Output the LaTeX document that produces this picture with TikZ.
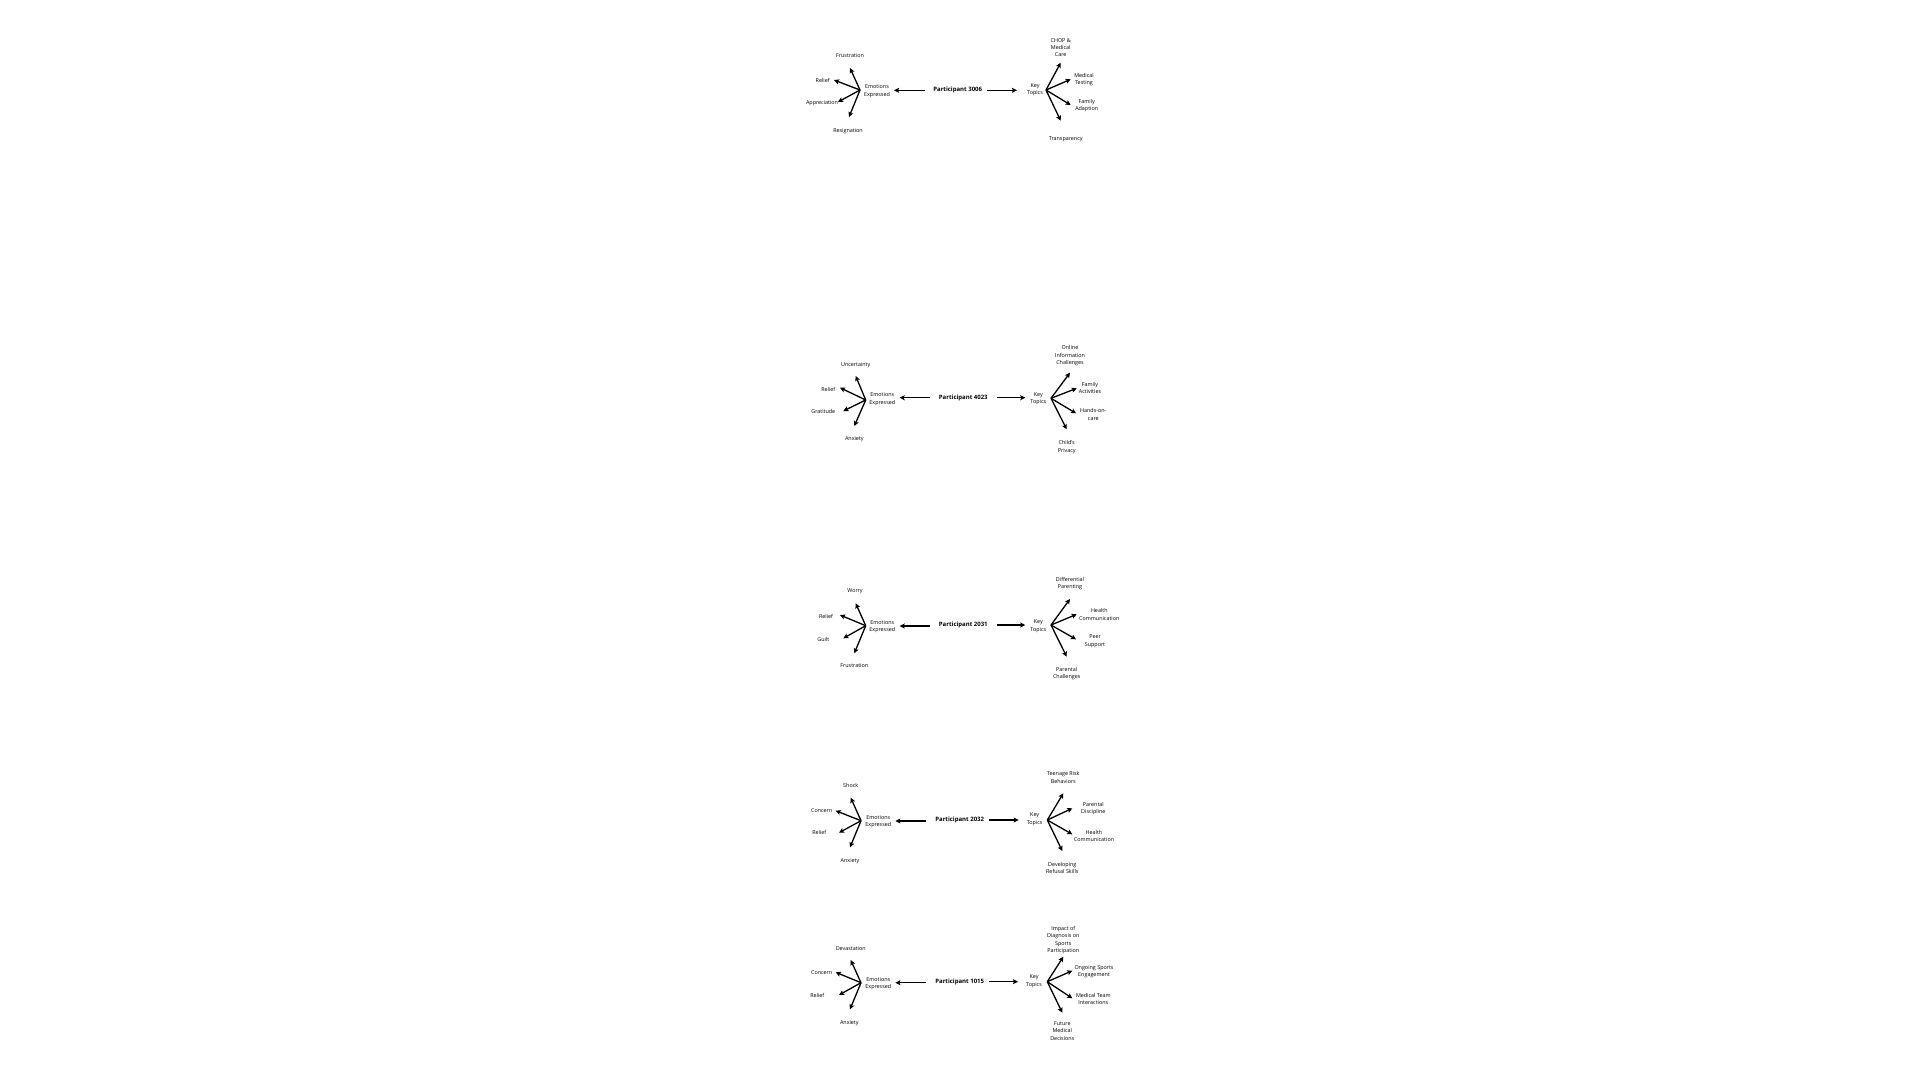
\documentclass[tikz,border=0pt]{standalone}
\usepackage{fontspec}
\setmainfont{Open Sans}
\usetikzlibrary{arrows.meta}
\begin{document}
\begin{tikzpicture}[x=1pt,y=-1pt,
  lbl/.style={font=\fontsize{5.4}{7.3}\selectfont,align=center,inner sep=0pt},
  pname/.style={font=\fontsize{6}{7}\selectfont\bfseries,inner sep=0pt},
  arr/.style={-{Stealth[length=5pt,width=5pt,inset=1pt]},line width=1.3pt}]
\useasboundingbox[fill=white] (0,0) rectangle (1920,1080);

% Participant 3006
\node[pname] (p3006) at (957.7,90.3) {Participant 3006};
\node[lbl] (e3006) at (877,91.2) {Emotions\\Expressed};
\node[lbl] (k3006) at (1035,89.5) {Key\\Topics};
\coordinate (eh3006) at (860,90); \coordinate (kh3006) at (1046,90);
\draw[arr,shorten <=8pt,shorten >=4pt] (p3006.west) -- (p3006.west -| e3006.east);
\draw[arr,shorten <=5pt,shorten >=10pt] (p3006.east) -- (p3006.east -| k3006.west);
\node[lbl] (frus3006) at (850,56) {Frustration};
\node[lbl] (reli3006) at (822.7,80) {Relief};
\node[lbl] (appr3006) at (822,103) {Appreciation};
\node[lbl] (resi3006) at (848,131) {Resignation};
\coordinate (tfrus3006) at (850,68); \coordinate (treli3006) at (834,80);
\coordinate (tappr3006) at (838,102); \coordinate (tresi3006) at (849,117);
\draw[arr] (eh3006) -- (tfrus3006); \draw[arr] (eh3006) -- (treli3006);
\draw[arr] (eh3006) -- (tappr3006); \draw[arr] (eh3006) -- (tresi3006);
\node[lbl] (chop3006) at (1060.7,47.5) {CHOP \&\\Medical\\Care};
\node[lbl] (test3006) at (1084,79.5) {Medical\\Testing};
\node[lbl] (fami3006) at (1086.7,105.8) {Family\\Adaption};
\node[lbl] (tran3006) at (1065.7,139) {Transparency};
\coordinate (tchop3006) at (1060.7,62.7); \coordinate (ttest3006) at (1070.7,79.3);
\coordinate (tfami3006) at (1070.7,105); \coordinate (ttran3006) at (1060.7,120.7);
\draw[arr] (kh3006) -- (tchop3006); \draw[arr] (kh3006) -- (ttest3006);
\draw[arr] (kh3006) -- (tfami3006); \draw[arr] (kh3006) -- (ttran3006);

% Participant 4023
\node[pname] (p4023) at (963.3,397.7) {Participant 4023};
\node[lbl] (e4023) at (882.3,399.3) {Emotions\\Expressed};
\node[lbl] (k4023) at (1038.3,399) {Key\\Topics};
\coordinate (eh4023) at (865.7,400); \coordinate (kh4023) at (1051,398.3);
\draw[arr,shorten <=9pt,shorten >=4.3pt] (p4023.west) -- (p4023.west -| e4023.east);
\draw[arr,shorten <=9pt,shorten >=5pt] (p4023.east) -- (p4023.east -| k4023.west);
\node[lbl] (unce4023) at (855.7,365) {Uncertainty};
\node[lbl] (reli4023) at (828.3,389) {Relief};
\node[lbl] (grat4023) at (823.3,411.7) {Gratitude};
\node[lbl] (anxi4023) at (854.3,439) {Anxiety};
\coordinate (tunce4023) at (855.7,376); \coordinate (treli4023) at (840,387.7);
\coordinate (tgrat4023) at (843.3,411); \coordinate (tanxi4023) at (854.3,426);
\draw[arr] (eh4023) -- (tunce4023); \draw[arr] (eh4023) -- (treli4023);
\draw[arr] (eh4023) -- (tgrat4023); \draw[arr] (eh4023) -- (tanxi4023);
\node[lbl] (onli4023) at (1070,355.8) {Online\\Information\\Challenges};
\node[lbl] (fami4023) at (1090,387.7) {Family\\Activities};
\node[lbl] (hand4023) at (1093.3,414.5) {Hands-on-\\care};
\node[lbl] (priv4023) at (1066.7,447) {Child's\\Privacy};
\coordinate (tonli4023) at (1070,372.7); \coordinate (tfami4023) at (1076.7,388.3);
\coordinate (thand4023) at (1076,413.3); \coordinate (tpriv4023) at (1066.7,429.3);
\draw[arr] (kh4023) -- (tonli4023); \draw[arr] (kh4023) -- (tfami4023);
\draw[arr] (kh4023) -- (thand4023); \draw[arr] (kh4023) -- (tpriv4023);

% Participant 2031
\node[pname] (p2031) at (963.3,625) {Participant 2031};
\node[lbl] (e2031) at (882.3,626.7) {Emotions\\Expressed};
\node[lbl] (k2031) at (1038.3,626.3) {Key\\Topics};
\coordinate (eh2031) at (865.7,625.7); \coordinate (kh2031) at (1051,625);
\draw[arr,shorten <=9pt,shorten >=4.3pt] ([yshift=-1pt]p2031.west) -- ([yshift=-1pt]p2031.west -| e2031.east);
\draw[arr,shorten <=9pt,shorten >=5pt] (p2031.east) -- (p2031.east -| k2031.west);
\node[lbl] (worr2031) at (855,591.7) {Worry};
\node[lbl] (reli2031) at (826,616.3) {Relief};
\node[lbl] (guil2031) at (823.3,639) {Guilt};
\node[lbl] (frus2031) at (854.3,665.7) {Frustration};
\coordinate (tworr2031) at (855.7,603.3); \coordinate (treli2031) at (840,615);
\coordinate (tguil2031) at (843.3,638.3); \coordinate (tfrus2031) at (854.3,653.3);
\draw[arr] (eh2031) -- (tworr2031); \draw[arr] (eh2031) -- (treli2031);
\draw[arr] (eh2031) -- (tguil2031); \draw[arr] (eh2031) -- (tfrus2031);
\node[lbl] (diff2031) at (1070,583.7) {Differential\\Parenting};
\node[lbl] (heal2031) at (1099.3,614.5) {Health\\Communication};
\node[lbl] (peer2031) at (1095,641.2) {Peer\\Support};
\node[lbl] (chal2031) at (1066.7,673.8) {Parental\\Challenges};
\coordinate (tdiff2031) at (1070,599); \coordinate (theal2031) at (1076.7,614.3);
\coordinate (tpeer2031) at (1076,639.3); \coordinate (tchal2031) at (1066.7,656.7);
\draw[arr] (kh2031) -- (tdiff2031); \draw[arr] (kh2031) -- (theal2031);
\draw[arr] (kh2031) -- (tpeer2031); \draw[arr] (kh2031) -- (tchal2031);

% Participant 2032
\node[pname] (p2032) at (959.7,820) {Participant 2032};
\node[lbl] (e2032) at (878.3,821.7) {Emotions\\Expressed};
\node[lbl] (k2032) at (1034.7,819.3) {Key\\Topics};
\coordinate (eh2032) at (861,820.7); \coordinate (kh2032) at (1047.3,820);
\draw[arr,shorten <=9pt,shorten >=4pt] ([yshift=-1pt]p2032.west) -- ([yshift=-1pt]p2032.west -| e2032.east);
\draw[arr,shorten <=5pt,shorten >=8pt] (p2032.east) -- (p2032.east -| k2032.west);
\node[lbl] (shoc2032) at (850.7,785.7) {Shock};
\node[lbl] (conc2032) at (821.7,810.7) {Concern};
\node[lbl] (reli2032) at (819.3,832.7) {Relief};
\node[lbl] (anxi2032) at (850,860.7) {Anxiety};
\coordinate (tshoc2032) at (850.7,797.7); \coordinate (tconc2032) at (835.7,810.7);
\coordinate (treli2032) at (839,832.7); \coordinate (tanxi2032) at (850,847.3);
\draw[arr] (eh2032) -- (tshoc2032); \draw[arr] (eh2032) -- (tconc2032);
\draw[arr] (eh2032) -- (treli2032); \draw[arr] (eh2032) -- (tanxi2032);
\node[lbl] (teen2032) at (1063.3,777.5) {Teenage Risk\\Behaviors};
\node[lbl] (disc2032) at (1093.3,808.7) {Parental\\Discipline};
\node[lbl] (heal2032) at (1094,835.8) {Health\\Communication};
\node[lbl] (refu2032) at (1062.3,868.3) {Developing\\Refusal Skills};
\coordinate (tteen2032) at (1063.3,793.3); \coordinate (tdisc2032) at (1072.3,808.3);
\coordinate (theal2032) at (1072.3,834.3); \coordinate (trefu2032) at (1062.3,851);
\draw[arr] (kh2032) -- (tteen2032); \draw[arr] (kh2032) -- (tdisc2032);
\draw[arr] (kh2032) -- (theal2032); \draw[arr] (kh2032) -- (trefu2032);

% Participant 1015
\node[pname] (p1015) at (959.7,981.7) {Participant 1015};
\node[lbl] (e1015) at (878.3,983.7) {Emotions\\Expressed};
\node[lbl] (k1015) at (1034,981.3) {Key\\Topics};
\coordinate (eh1015) at (861,982.7); \coordinate (kh1015) at (1047.3,981.7);
\draw[arr,shorten <=9pt,shorten >=4pt] ([yshift=-1pt]p1015.west) -- ([yshift=-1pt]p1015.west -| e1015.east);
\draw[arr,shorten <=5pt,shorten >=8pt] (p1015.east) -- (p1015.east -| k1015.west);
\node[lbl] (deva1015) at (850.7,948.3) {Devastation};
\node[lbl] (conc1015) at (821.7,972.3) {Concern};
\node[lbl] (reli1015) at (817.3,995) {Relief};
\node[lbl] (anxi1015) at (849.3,1023.3) {Anxiety};
\coordinate (tdeva1015) at (850.7,960); \coordinate (tconc1015) at (835.7,972.3);
\coordinate (treli1015) at (839,995); \coordinate (tanxi1015) at (850,1009.3);
\draw[arr] (eh1015) -- (tdeva1015); \draw[arr] (eh1015) -- (tconc1015);
\draw[arr] (eh1015) -- (treli1015); \draw[arr] (eh1015) -- (tanxi1015);
\node[lbl] (impa1015) at (1063.3,940) {Impact of\\Diagnosis on\\Sports\\Participation};
\node[lbl] (ongo1015) at (1094,972) {Ongoing Sports\\Engagement};
\node[lbl] (team1015) at (1093.3,998.7) {Medical Team\\Interactions};
\node[lbl] (futu1015) at (1062.3,1030.8) {Future\\Medical\\Decisions};
\coordinate (timpa1015) at (1063.3,956.7); \coordinate (tongo1015) at (1072.3,970.7);
\coordinate (tteam1015) at (1072.3,998.3); \coordinate (tfutu1015) at (1062.3,1012.7);
\draw[arr] (kh1015) -- (timpa1015); \draw[arr] (kh1015) -- (tongo1015);
\draw[arr] (kh1015) -- (tteam1015); \draw[arr] (kh1015) -- (tfutu1015);
\end{tikzpicture}
\end{document}
